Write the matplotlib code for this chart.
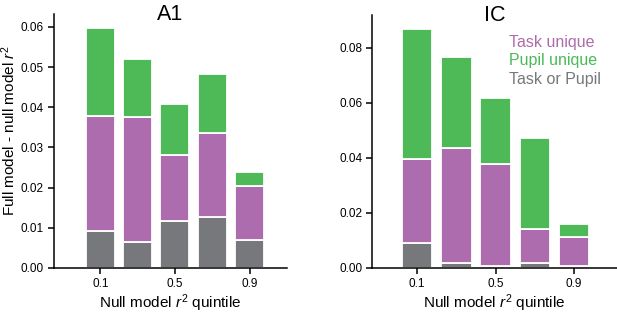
import matplotlib
matplotlib.use('Agg')
import matplotlib.pyplot as plt
import numpy as np

plt.rcParams['font.family'] = ['Liberation Sans', 'DejaVu Sans']
plt.rcParams['mathtext.fontset'] = 'custom'
plt.rcParams['mathtext.rm'] = 'Liberation Sans'
plt.rcParams['mathtext.it'] = 'Liberation Sans:italic'

quintiles = [0.1, 0.3, 0.5, 0.7, 0.9]
tick_labels = ['0.1', '0.5', '0.9']

# A1: top of each stacked segment
a1_shared = [0.0092, 0.0065, 0.0117, 0.0128, 0.0070]
a1_task_top = [0.0379, 0.0376, 0.0281, 0.0335, 0.0204]
a1_pupil_top = [0.0598, 0.0519, 0.0409, 0.0484, 0.0240]

# IC
ic_shared = [0.0091, 0.0019, 0.0008, 0.0017, 0.0008]
ic_task_top = [0.0395, 0.0437, 0.0378, 0.0143, 0.0113]
ic_pupil_top = [0.0868, 0.0767, 0.0616, 0.0470, 0.0161]

c_gray = '#77787b'
c_purple = '#ad6cad'
c_green = '#4db957'

fig = plt.figure(figsize=(6.17, 3.13), dpi=100)
ax1 = fig.add_axes([0.087, 0.144, 0.378, 0.811])
ax2 = fig.add_axes([0.603, 0.144, 0.397, 0.808])


def draw(ax, shared, task_top, pupil_top):
    x = np.array(quintiles)
    shared = np.array(shared)
    task_top = np.array(task_top)
    pupil_top = np.array(pupil_top)
    kw = dict(width=0.155, edgecolor='white', linewidth=1.3)
    ax.bar(x, shared, color=c_gray, **kw)
    ax.bar(x, task_top - shared, bottom=shared, color=c_purple, **kw)
    ax.bar(x, pupil_top - task_top, bottom=task_top, color=c_green, **kw)
    for s in ['top', 'right']:
        ax.spines[s].set_visible(False)
    for s in ['left', 'bottom']:
        ax.spines[s].set_linewidth(1.1)
    ax.tick_params(direction='out', length=4, width=1.1, labelsize=8.5, pad=3)
    ax.set_xticks([0.1, 0.5, 0.9])
    ax.set_xticklabels(tick_labels)
    ax.set_xlabel('Null model $r^2$ quintile', fontsize=11, labelpad=2)


draw(ax1, a1_shared, a1_task_top, a1_pupil_top)
ax1.set_xlim(-0.15, 1.1)
ax1.set_ylim(0, 0.0632)
ax1.set_yticks(np.arange(0, 0.061, 0.01))
ax1.set_yticklabels(['%.2f' % v for v in np.arange(0, 0.061, 0.01)])
ax1.set_ylabel('Full model - null model $r^2$', fontsize=11)
ax1.yaxis.set_label_coords(-0.152, 0.54)
ax1.text(0.5, 1.0, 'A1', transform=ax1.transAxes, ha='center', va='center',
         fontsize=15.5)

draw(ax2, ic_shared, ic_task_top, ic_pupil_top)
ax2.set_xlim(-0.13, 1.12)
ax2.set_ylim(0, 0.0918)
ax2.set_yticks(np.arange(0, 0.081, 0.02))
ax2.set_yticklabels(['%.2f' % v for v in np.arange(0, 0.081, 0.02)])
ax2.text(0.5, 1.0, 'IC', transform=ax2.transAxes, ha='center', va='center',
         fontsize=15.5)

legend_items = [('Task unique', c_purple), ('Pupil unique', c_green),
                ('Task or Pupil', c_gray)]
for i, (lab, col) in enumerate(legend_items):
    ax2.text(0.56, 0.893 - i * 0.074, lab, transform=ax2.transAxes,
             color=col, fontsize=11.5, va='center', ha='left')

fig.savefig('out.png', dpi=100)
